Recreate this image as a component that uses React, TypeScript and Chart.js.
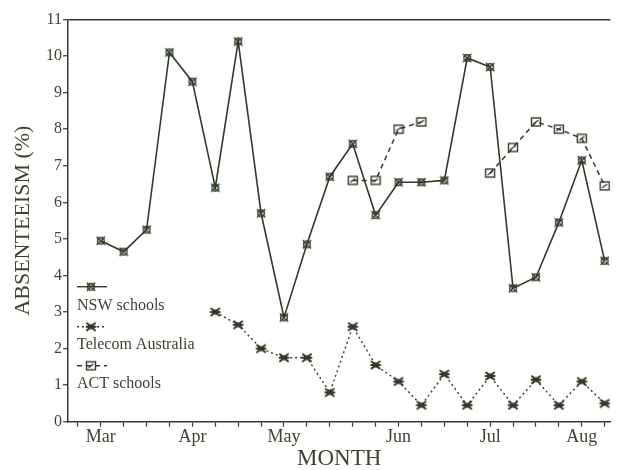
import React, { useEffect, useRef } from 'react';
import { Chart, registerables } from 'chart.js';

Chart.register(...registerables);

// Weekly categories (index = week), with month names where the reference labels them
const weekLabels = ['', 'Mar', '', '', '', 'Apr', '', '', '', 'May', '', '', '', '', 'Jun', '', '', '', 'Jul', '', '', '', 'Aug', ''];
const yTicks = [0, 1, 2, 3, 4, 5, 6, 7, 8, 9, 10, 11];

const nswSchools = [null, 4.95, 4.65, 5.25, 10.1, 9.3, 6.4, 10.4, 5.7, 2.85, 4.85, 6.7, 7.6, 5.65, 6.55, 6.55, 6.6, 9.95, 9.7, 3.65, 3.95, 5.45, 7.15, 4.4];
const telecomAustralia = [null, null, null, null, null, null, 3.0, 2.65, 2.0, 1.75, 1.75, 0.8, 2.6, 1.55, 1.1, 0.45, 1.3, 0.45, 1.25, 0.45, 1.15, 0.45, 1.1, 0.5];
const actSchools = [null, null, null, null, null, null, null, null, null, null, null, null, 6.6, 6.6, 8.0, 8.2, null, null, 6.8, 7.5, 8.2, 8.0, 7.75, 6.45];

const seriesNames = ['NSW schools', 'Telecom Australia', 'ACT schools'];

const LINE = '#2f3b28';
const TEXT = '#3a4430';
const FONT = "'Liberation Serif', 'Times New Roman', serif";

function makeMarker(kind: string): HTMLCanvasElement {
  const c = document.createElement('canvas');
  c.width = 12;
  c.height = 12;
  const g = c.getContext('2d')!;
  g.strokeStyle = LINE;
  g.fillStyle = LINE;
  g.lineCap = 'round';
  if (kind === 'nsw') {
    g.lineWidth = 1.4;
    g.beginPath();
    g.arc(6, 6, 3.3, 0, Math.PI * 2);
    g.stroke();
    g.beginPath();
    g.moveTo(2.2, 2.2); g.lineTo(9.8, 9.8);
    g.moveTo(9.8, 2.2); g.lineTo(2.2, 9.8);
    g.stroke();
  } else if (kind === 'tel') {
    g.lineWidth = 2;
    g.beginPath();
    g.moveTo(2, 2.5); g.lineTo(10, 9.5);
    g.moveTo(10, 2.5); g.lineTo(2, 9.5);
    g.moveTo(1.5, 6); g.lineTo(10.5, 6);
    g.stroke();
    g.fillRect(3.5, 3.5, 5, 5);
  } else {
    g.lineWidth = 1.4;
    g.strokeRect(1.5, 2, 9, 8);
    g.beginPath();
    g.moveTo(4, 7.5); g.lineTo(8, 4.5);
    g.stroke();
  }
  return c;
}

export default function App() {
  const ref = useRef<HTMLCanvasElement>(null);

  useEffect(() => {
    const mNsw = makeMarker('nsw');
    const mTel = makeMarker('tel');
    const mAct = makeMarker('act');

    const toPts = (arr: (number | null)[]) => arr.map((y, i) => ({ x: i, y }));

    const legendPlugin = {
      id: 'customLegend',
      afterDatasetsDraw(chart: any) {
        const { ctx, chartArea } = chart;
        const x0 = chartArea.left + 9;
        const b = chartArea.bottom;
        const items = [
          { dash: [] as number[], marker: mNsw, lineY: b - 135, textY: b - 116, name: seriesNames[0] },
          { dash: [2, 3], marker: mTel, lineY: b - 95, textY: b - 77, name: seriesNames[1] },
          { dash: [5, 4], marker: mAct, lineY: b - 56, textY: b - 38, name: seriesNames[2] },
        ];
        ctx.save();
        for (const it of items) {
          ctx.strokeStyle = LINE;
          ctx.lineWidth = 1.4;
          ctx.setLineDash(it.dash);
          ctx.beginPath();
          ctx.moveTo(x0, it.lineY);
          ctx.lineTo(x0 + 30, it.lineY);
          ctx.stroke();
          ctx.setLineDash([]);
          ctx.drawImage(it.marker, x0 + 14 - 6, it.lineY - 6);
          ctx.fillStyle = TEXT;
          ctx.font = `16px ${FONT}`;
          ctx.textAlign = 'left';
          ctx.textBaseline = 'middle';
          ctx.fillText(it.name, x0, it.textY);
        }
        ctx.restore();
      },
    };

    const chart = new Chart(ref.current!, {
      type: 'line',
      data: {
        datasets: [
          {
            label: seriesNames[0],
            data: toPts(nswSchools),
            borderColor: LINE,
            borderWidth: 1.6,
            pointStyle: mNsw,
            pointRadius: 5,
            spanGaps: false,
            tension: 0,
          },
          {
            label: seriesNames[1],
            data: toPts(telecomAustralia),
            borderColor: LINE,
            borderWidth: 1.4,
            borderDash: [2, 3],
            pointStyle: mTel,
            pointRadius: 5,
            spanGaps: false,
            tension: 0,
          },
          {
            label: seriesNames[2],
            data: toPts(actSchools),
            borderColor: LINE,
            borderWidth: 1.5,
            borderDash: [5, 4],
            pointStyle: mAct,
            pointRadius: 5,
            spanGaps: false,
            tension: 0,
          },
        ] as any,
      },
      options: {
        animation: false,
        responsive: true,
        maintainAspectRatio: false,
        layout: { padding: { top: 19.5, left: 0, right: 0, bottom: 0 } },
        plugins: { legend: { display: false }, tooltip: { enabled: false } },
        scales: {
          x: {
            type: 'linear',
            min: -0.43,
            max: 23.25,
            afterBuildTicks: (scale: any) => {
              scale.ticks = weekLabels.map((_, i) => ({ value: i }));
            },
            afterFit: (scale: any) => {
              scale.height = 48.3;
            },
            ticks: {
              autoSkip: false,
              maxRotation: 0,
              padding: 0,
              color: TEXT,
              font: { family: FONT, size: 18 },
              callback: (v: any) => weekLabels[Math.round(Number(v))] ?? '',
            },
            grid: { drawOnChartArea: false, tickLength: 5, tickColor: LINE, tickWidth: 1.2 },
            border: { display: true, color: LINE, width: 1.5 },
            title: {
              display: true,
              text: 'MONTH',
              color: TEXT,
              font: { family: FONT, size: 23, lineHeight: 1 },
              padding: { top: 0, bottom: 0 },
            },
          },
          y: {
            type: 'linear',
            min: 0,
            max: 11,
            afterBuildTicks: (scale: any) => {
              scale.ticks = yTicks.map((v) => ({ value: v }));
            },
            afterFit: (scale: any) => {
              scale.width = 68;
            },
            ticks: {
              padding: 1,
              color: TEXT,
              font: { family: FONT, size: 16 },
              callback: (v: any) => String(v),
            },
            grid: {
              drawOnChartArea: true,
              color: (c: any) => (c.tick && c.tick.value === 11 ? LINE : 'rgba(0,0,0,0)'),
              lineWidth: 1.5,
              tickLength: 5,
              tickColor: LINE,
              tickWidth: 1.2,
            },
            border: { display: true, color: LINE, width: 1.5 },
            title: {
              display: true,
              text: 'ABSENTEEISM (%)',
              color: TEXT,
              font: { family: FONT, size: 22, lineHeight: 1 },
              padding: { top: 12, bottom: 0 },
            },
          },
        },
      } as any,
      plugins: [legendPlugin],
    });
    return () => chart.destroy();
  }, []);

  return (
    <div style={{ position: 'fixed', left: 0, top: 0, width: 617, height: 470, background: '#ffffff' }}>
      <canvas ref={ref} />
    </div>
  );
}
